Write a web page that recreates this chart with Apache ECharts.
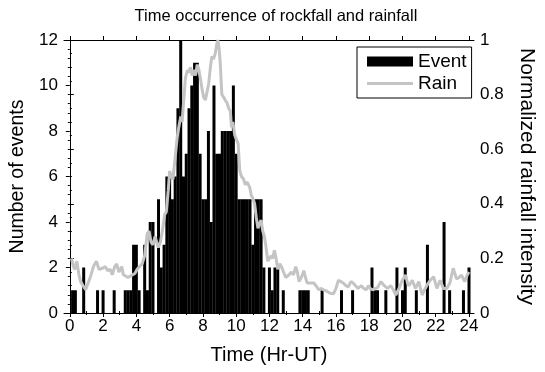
<!DOCTYPE html>
<html>
<head>
<meta charset="utf-8">
<script src="https://cdn.jsdelivr.net/npm/echarts@6/dist/echarts.min.js"></script>
<style>
  html, body { margin: 0; padding: 0; background: #fff; }
  #chart { width: 545px; height: 372px; }
</style>
</head>
<body>
<div id="chart"></div>
<script>
// rockfall events per 10-minute bin, bin k centred at k/6 hours (k = 0..144)
const eventCounts = [
  0, 1, 1, 0, 0, 2, 0, 0, 0, 0, 1, 0, 1, 0, 0, 0, 1, 0, 0, 0,
  1, 1, 1, 3, 3, 1, 0, 3, 1, 4, 4, 0, 5, 2, 3, 6, 6, 5, 6, 9,
  12, 6, 7, 9, 10, 11, 11, 7, 5, 5, 8, 4, 10, 7, 7, 8, 8, 8, 8, 10,
  7, 5, 5, 5, 5, 5, 3, 5, 5, 5, 2, 0, 2, 1, 2, 2, 0, 1, 0, 0,
  0, 0, 0, 1, 1, 1, 1, 0, 0, 0, 0, 1, 0, 0, 0, 0, 0, 0, 1, 0,
  0, 0, 1, 0, 0, 0, 0, 0, 0, 2, 1, 1, 0, 0, 1, 0, 0, 0, 2, 0,
  1, 2, 0, 0, 0, 1, 0, 0, 0, 3, 0, 0, 0, 0, 0, 4, 0, 1, 0, 0,
  0, 0, 1, 0, 2
]
const binsPerHour = 6

// normalized rainfall intensity
const rainHours = [
  0.10, 0.22, 0.30, 0.42, 0.55, 0.65, 0.80, 0.95, 1.10, 1.25, 1.42, 1.60, 1.75, 1.87, 2.00, 2.13,
  2.28, 2.43, 2.55, 2.70, 2.82, 2.95, 3.12, 3.22, 3.32, 3.50, 3.61, 3.78, 3.91, 4.05, 4.20, 4.35,
  4.50, 4.65, 4.76, 4.88, 5.00, 5.12, 5.22, 5.32, 5.45, 5.59, 5.70, 5.80, 5.92, 6.00, 6.10, 6.20,
  6.30, 6.45, 6.55, 6.67, 6.75, 6.85, 6.95, 7.07, 7.15, 7.25, 7.36, 7.46, 7.56, 7.66, 7.76, 7.85,
  7.95, 8.05, 8.15, 8.25, 8.35, 8.45, 8.54, 8.64, 8.74, 8.82, 8.90, 8.97, 9.04, 9.14, 9.25, 9.34,
  9.45, 9.55, 9.65, 9.72, 9.80, 9.92, 10.02, 10.12, 10.22, 10.32, 10.45, 10.55, 10.65, 10.82, 10.91, 11.01,
  11.11, 11.21, 11.31, 11.42, 11.50, 11.60, 11.70, 11.80, 11.90, 12.00, 12.10, 12.20, 12.30, 12.40, 12.50, 12.62,
  12.72, 12.85, 12.98, 13.08, 13.18, 13.30, 13.45, 13.58, 13.68, 13.78, 13.92, 14.07, 14.17, 14.27, 14.45, 14.67,
  14.80, 14.96, 15.10, 15.26, 15.45, 15.65, 15.85, 16.00, 16.15, 16.30, 16.44, 16.60, 16.74, 16.90, 17.03, 17.18,
  17.33, 17.53, 17.68, 17.82, 17.95, 18.06, 18.20, 18.31, 18.51, 18.71, 18.90, 19.10, 19.30, 19.45, 19.60, 19.79,
  19.99, 20.19, 20.30, 20.39, 20.59, 20.78, 20.98, 21.18, 21.37, 21.50, 21.67, 21.87, 22.07, 22.26, 22.46, 22.66,
  22.85, 23.05, 23.25, 23.40, 23.55, 23.74, 23.90, 24.00
]
const rainValues = [
  0.20, 0.17, 0.16, 0.19, 0.14, 0.115, 0.10, 0.085, 0.11, 0.135, 0.17, 0.19, 0.16, 0.155, 0.165, 0.17,
  0.155, 0.16, 0.14, 0.17, 0.18, 0.15, 0.17, 0.14, 0.135, 0.13, 0.125, 0.14, 0.145, 0.16, 0.17, 0.18,
  0.21, 0.29, 0.30, 0.26, 0.25, 0.28, 0.285, 0.24, 0.26, 0.31, 0.36, 0.37, 0.45, 0.52, 0.50, 0.49,
  0.55, 0.64, 0.68, 0.72, 0.70, 0.78, 0.86, 0.89, 0.88, 0.90, 0.87, 0.89, 0.87, 0.91, 0.89, 0.86,
  0.82, 0.79, 0.78, 0.81, 0.84, 0.90, 0.94, 0.93, 0.95, 0.98, 1.00, 0.97, 0.92, 0.80, 0.79, 0.78,
  0.77, 0.75, 0.74, 0.68, 0.70, 0.65, 0.645, 0.62, 0.52, 0.50, 0.49, 0.47, 0.48, 0.46, 0.43, 0.42,
  0.40, 0.35, 0.31, 0.33, 0.34, 0.30, 0.28, 0.24, 0.19, 0.20, 0.21, 0.20, 0.23, 0.20, 0.16, 0.18,
  0.17, 0.15, 0.13, 0.135, 0.14, 0.15, 0.14, 0.17, 0.15, 0.115, 0.13, 0.155, 0.13, 0.11, 0.11, 0.11,
  0.10, 0.085, 0.09, 0.085, 0.08, 0.072, 0.07, 0.09, 0.12, 0.115, 0.11, 0.10, 0.096, 0.115, 0.11, 0.10,
  0.09, 0.10, 0.09, 0.085, 0.10, 0.09, 0.085, 0.088, 0.094, 0.115, 0.10, 0.09, 0.10, 0.085, 0.066, 0.09,
  0.12, 0.139, 0.11, 0.10, 0.12, 0.09, 0.115, 0.066, 0.09, 0.105, 0.12, 0.133, 0.09, 0.12, 0.09, 0.09,
  0.11, 0.164, 0.125, 0.13, 0.139, 0.115, 0.14, 0.15
]

const hourTicks = [0, 2, 4, 6, 8, 10, 12, 14, 16, 18, 20, 22, 24]
const hourMinorTicks = [1, 3, 5, 7, 9, 11, 13, 15, 17, 19, 21, 23]

const font = 'Liberation Sans, Arial, Helvetica, sans-serif'
const xMin = -0.35
const xMax = 24.3

const chart = echarts.init(document.getElementById('chart'), null, { renderer: 'canvas' })

const baseX = {
  type: 'value',
  min: xMin,
  max: xMax,
  splitLine: { show: false },
  axisLine: { show: true, onZero: false, lineStyle: { color: '#000', width: 1 } },
  axisTick: { show: true, inside: false, length: 4, customValues: hourTicks, lineStyle: { color: '#000' } },
  axisLabel: { show: false }
}

chart.setOption({
  animation: false,
  backgroundColor: '#fff',
  title: {
    text: 'Time occurrence of rockfall and rainfall',
    left: 271,
    textAlign: 'center',
    top: 3,
    textStyle: { fontFamily: font, fontSize: 16.5, fontWeight: 'normal', color: '#000' }
  },
  legend: {
    left: 357,
    top: 47,
    orient: 'vertical',
    align: 'left',
    backgroundColor: '#fff',
    borderColor: '#000',
    borderWidth: 1,
    borderRadius: 0,
    padding: [5, 5, 5, 10],
    itemWidth: 46,
    itemHeight: 10,
    itemGap: 3,
    symbolKeepAspect: true,
    textStyle: { fontFamily: font, fontSize: 19, color: '#000' },
    data: [
      { name: 'Event', icon: 'rect' },
      { name: 'Rain', icon: 'path://M0,0 L46,0 L46,3 L0,3 Z' }
    ]
  },
  grid: { left: 63, right: 67, top: 40, bottom: 59, containLabel: false },
  xAxis: [
    Object.assign({}, baseX, {
      position: 'bottom',
      name: 'Time (Hr-UT)',
      nameLocation: 'middle',
      nameGap: 32,
      nameTextStyle: { fontFamily: font, fontSize: 20, color: '#000' },
      axisLabel: {
        show: true, customValues: hourTicks, margin: 5,
        fontFamily: font, fontSize: 17, color: '#000'
      }
    }),
    Object.assign({}, baseX, { position: 'top' }),
    Object.assign({}, baseX, {
      position: 'bottom', axisLine: { show: false },
      axisTick: { show: true, length: 2, customValues: hourMinorTicks, lineStyle: { color: '#000' } }
    }),
    Object.assign({}, baseX, {
      position: 'top', axisLine: { show: false },
      axisTick: { show: true, length: 2, customValues: hourMinorTicks, lineStyle: { color: '#000' } }
    })
  ],
  yAxis: [
    {
      type: 'value',
      position: 'left',
      min: 0,
      max: 12,
      interval: 2,
      name: 'Number of events',
      nameLocation: 'middle',
      nameRotate: 90,
      nameGap: 36,
      nameTextStyle: { fontFamily: font, fontSize: 19.5, color: '#000' },
      splitLine: { show: false },
      axisLine: { show: true, lineStyle: { color: '#000' } },
      axisTick: { show: true, length: 4, lineStyle: { color: '#000' } },
      minorTick: { show: true, splitNumber: 5, length: 2, lineStyle: { color: '#000' } },
      axisLabel: { margin: 6, fontFamily: font, fontSize: 17, color: '#000' }
    },
    {
      type: 'value',
      position: 'right',
      min: 0,
      max: 1,
      interval: 0.2,
      name: 'Normalized rainfall intensity',
      nameLocation: 'middle',
      nameRotate: -90,
      nameGap: 42,
      nameTextStyle: { fontFamily: font, fontSize: 21, color: '#000' },
      splitLine: { show: false },
      axisLine: { show: true, lineStyle: { color: '#000' } },
      axisTick: { show: true, length: 4, lineStyle: { color: '#000' } },
      minorTick: { show: true, splitNumber: 4, length: 2, lineStyle: { color: '#000' } },
      axisLabel: { margin: 6, fontFamily: font, fontSize: 17, color: '#000' }
    }
  ],
  series: [
    {
      name: 'Event',
      type: 'bar',
      xAxisIndex: 0,
      yAxisIndex: 0,
      barWidth: 3,
      itemStyle: { color: '#000' },
      data: eventCounts.map((v, k) => [k / binsPerHour, v])
    },
    {
      name: 'Rain',
      type: 'line',
      xAxisIndex: 0,
      yAxisIndex: 1,
      symbol: 'none',
      lineStyle: { color: '#c4c4c4', width: 3 },
      itemStyle: { color: '#c4c4c4' },
      data: rainHours.map((h, i) => [h, rainValues[i]])
    }
  ]
})
</script>
</body>
</html>
